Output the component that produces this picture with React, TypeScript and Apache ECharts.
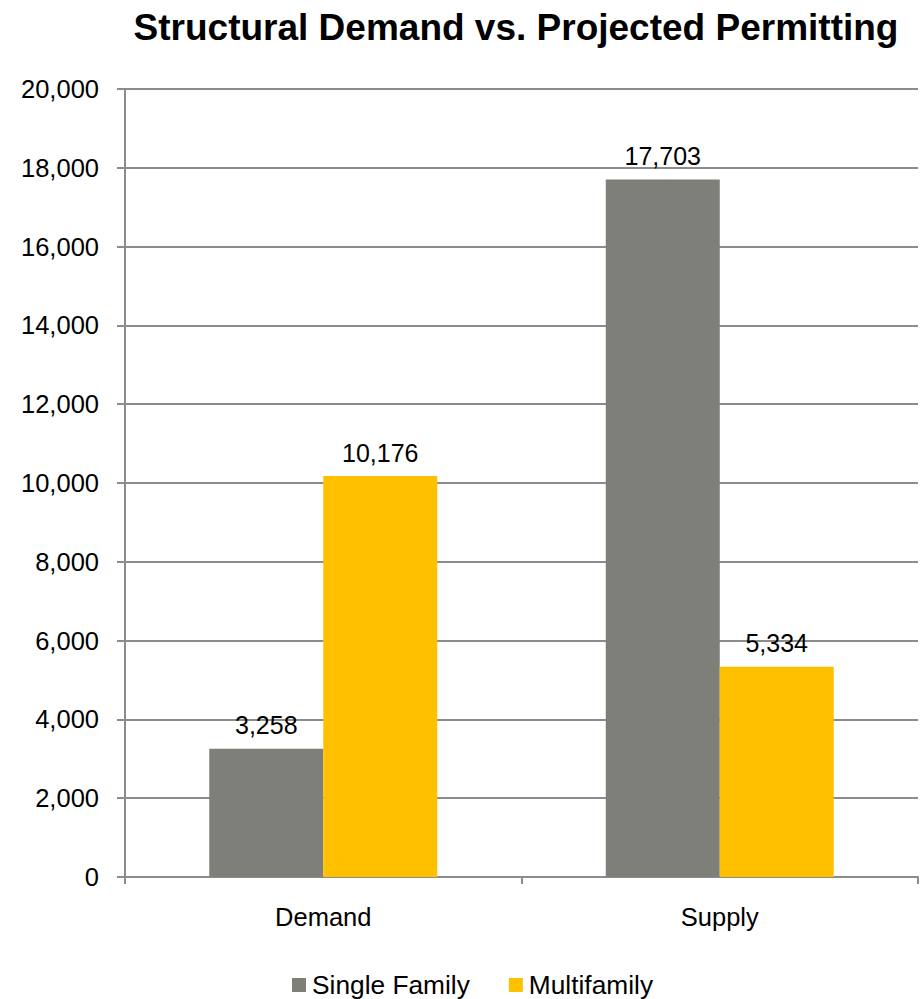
import React, { useEffect, useRef } from "react";
import * as echarts from "echarts";

const categories = ["Demand", "Supply"];
const singleFamily = [3258, 17703];
const multifamily = [10176, 5334];
const seriesNames = ["Single Family", "Multifamily"];

export default function App() {
  const ref = useRef<HTMLDivElement>(null);
  useEffect(() => {
    const chart = echarts.init(ref.current!, null, { renderer: "svg" });
    const font = "'Liberation Sans', Arial, sans-serif";
    const fmt = (v: number) => v.toLocaleString("en-US");
    const labelCfg = {
      show: true,
      position: "top",
      distance: 11,
      fontFamily: font,
      fontSize: 25,
      color: "#000",
      formatter: (p: any) => fmt(p.value),
    };
    chart.setOption({
      animation: false,
      textStyle: { fontFamily: font },
      title: {
        text: "Structural Demand vs. Projected Permitting",
        left: 511,
        textAlign: "center",
        top: 4,
        textStyle: { fontFamily: font, fontSize: 37, fontWeight: "bold", color: "#000" },
      },
      legend: {
        top: 967,
        left: 287,
        itemWidth: 14,
        itemHeight: 14,
        itemGap: 39,
        itemStyle: { borderWidth: 0 },
        icon: "rect",
        textStyle: { fontFamily: font, fontSize: 26.3, color: "#000", padding: [0, 0, 0, 1] },
        data: seriesNames,
      },
      grid: { left: 125, right: 4, top: 89, bottom: 122, containLabel: false },
      xAxis: {
        type: "category",
        data: categories,
        axisLine: { lineStyle: { color: "#8c8c8c", width: 2 } },
        axisTick: { show: true, length: 7, lineStyle: { color: "#8c8c8c", width: 2 } },
        axisLabel: { fontFamily: font, fontSize: 25.5, color: "#000", margin: 27 },
      },
      yAxis: {
        type: "value",
        min: 0,
        max: 20000,
        interval: 2000,
        axisLine: { show: true, lineStyle: { color: "#8c8c8c", width: 2 } },
        axisTick: { show: true, length: 8, lineStyle: { color: "#8c8c8c", width: 2 } },
        splitLine: { lineStyle: { color: "#8c8c8c", width: 2 } },
        axisLabel: { fontFamily: font, fontSize: 25.5, color: "#000", margin: 26, formatter: fmt },
      },
      series: [
        {
          name: seriesNames[0],
          type: "bar",
          data: singleFamily,
          barGap: "0%",
          barCategoryGap: "42.5%",
          itemStyle: { color: "#7f7f79" },
          label: labelCfg,
        },
        {
          name: seriesNames[1],
          type: "bar",
          data: multifamily,
          itemStyle: { color: "#ffc000" },
          label: labelCfg,
        },
      ],
    });
    return () => chart.dispose();
  }, []);
  return <div ref={ref} style={{ width: 922, height: 999, position: "absolute", left: 0, top: 0 }} />;
}
